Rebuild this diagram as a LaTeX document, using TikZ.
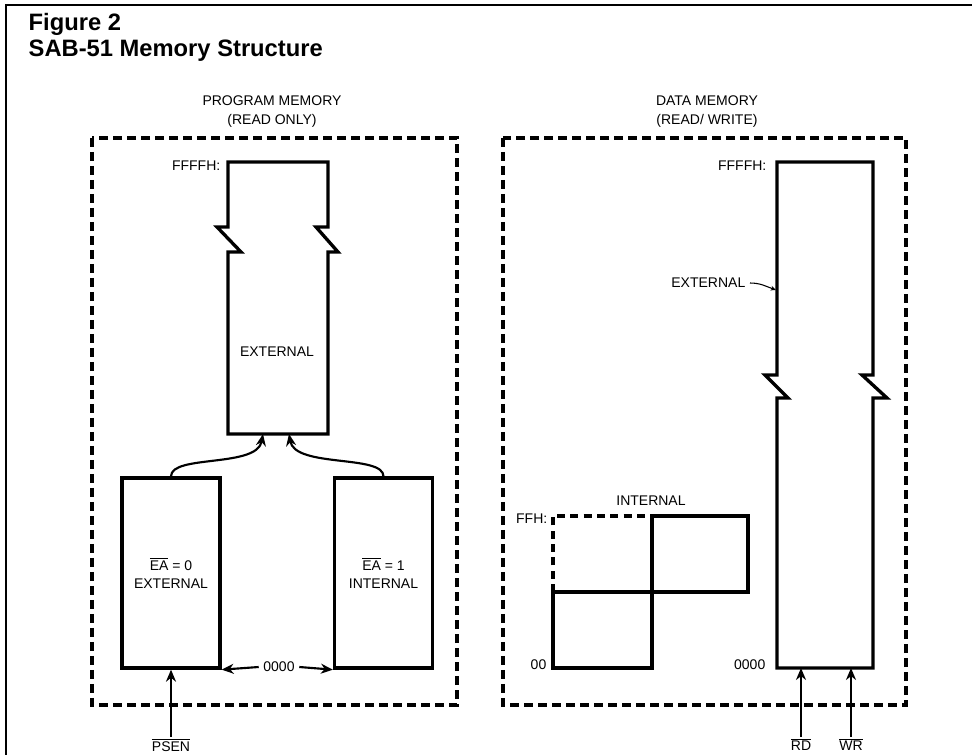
\documentclass[tikz,border=0pt]{standalone}
\usepackage{fontspec}
\setmainfont{Liberation Sans}
\usetikzlibrary{arrows.meta, positioning}
\newcommand{\ovl}[1]{$\overline{\mbox{#1}}$}

\begin{document}
\begin{tikzpicture}[x=0.75pt, y=-0.75pt,
  >={Stealth[length=9pt, width=7.5pt]},
  font=\fontsize{10.5}{13.5}\selectfont,
  memline/.style={line width=2.5pt},
  areabox/.style={line width=2.7pt, dash pattern=on 6.5pt off 4pt},
  membox/.style={draw, memline, align=center,
    minimum width=73.5pt, minimum height=142.5pt},
  feed/.style={->, line width=1.6pt},
  caption/.style={align=center, font=\fontsize{10.5}{14.25}\selectfont},
  headline/.style={anchor=base west, font=\fontsize{17.8}{20}\selectfont\bfseries}]
  \useasboundingbox (0,0) rectangle (972,755);

  % frame and title
  \draw[line width=1.5pt] (6,755) -- (6,5) -- (972,5);
  \node[headline] (fignum) at (24,31) {Figure 2};
  \node[headline] (figtitle) at (24,57) {SAB-51 Memory Structure};

  % program memory area
  \draw[areabox] (92,138) rectangle (457,705);
  \node[caption] (pgmhead) at (272,112) {PROGRAM MEMORY\\(READ ONLY)};

  % external program memory, with break marks
  \draw[memline] (228,227) -- (228,162) -- (328,162) -- (328,227)
    -- (316,227) -- (338,252) -- (328,252) -- (328,434) -- (228,434)
    -- (228,252) -- (241,252) -- (217,227) -- cycle;
  \node (pgmext) at (277,352) {EXTERNAL};
  \node[anchor=east] (pgmtop) at (225,166) {FFFFH:};
  \coordinate (pgmin1) at (263,434);
  \coordinate (pgmin2) at (289,434);

  % EA selects external or internal
  \node[membox] (eazero) at (171,573) {\ovl{EA} = 0\\EXTERNAL};
  \node[membox] (eaone) at (383.5,573) {\ovl{EA} = 1\\INTERNAL};
  \draw[feed] (eazero.north) .. controls +(0,-22) and +(-6,34) .. (pgmin1);
  \draw[feed] (eaone.north) .. controls +(0,-22) and +(6,34) .. (pgmin2);

  \node (pzero) at (279,667) {0000};
  \draw[feed] (pzero.west) -- (eazero.south east);
  \draw[feed] (pzero.east) -- (eaone.south west);

  \node[anchor=north, inner sep=1pt] (psen) at (171,737) {\ovl{PSEN}};
  \draw[feed] (psen) -- (eazero.south);

  % data memory area
  \draw[areabox] (503,138) rectangle (906,705);
  \node[caption] (datahead) at (707,112) {DATA MEMORY\\(READ/ WRITE)};

  % external data memory, with break marks
  \draw[memline] (777,375) -- (777,162) -- (873,162) -- (873,375)
    -- (862,375) -- (887,398) -- (873,398) -- (873,668) -- (777,668)
    -- (777,398) -- (788,398) -- (765,375) -- cycle;
  \node[anchor=east] (datatop) at (771,166) {FFFFH:};
  \node[anchor=east] (dataext) at (750,283) {EXTERNAL};
  \coordinate (dataedge) at (776,290);
  \draw[->, line width=0.8pt, >={Stealth[length=4pt, width=3.5pt]}]
    (dataext.east) to[out=0, in=160] (dataedge);
  \node[anchor=east] (datazero) at (770,665) {0000};

  \coordinate (rdin) at (801,668);
  \coordinate (wrin) at (851,668);
  \node[anchor=north, inner sep=1pt] (rd) at (801,737) {\ovl{RD}};
  \node[anchor=north, inner sep=1pt] (wr) at (851,737) {\ovl{WR}};
  \draw[feed] (rd) -- (rdin);
  \draw[feed] (wr) -- (wrin);

  % internal data memory
  \draw[memline] (553,592) rectangle (652,668);
  \draw[memline] (652,516) rectangle (748,592);
  \draw[memline, dash pattern=on 6pt off 4pt] (553,592) -- (553,516) -- (652,516);
  \node (intlbl) at (651,501) {INTERNAL};
  \node[anchor=east] (intff) at (552,519) {FFH:};
  \node[anchor=east] (intzero) at (551,665) {00};
\end{tikzpicture}
\end{document}
